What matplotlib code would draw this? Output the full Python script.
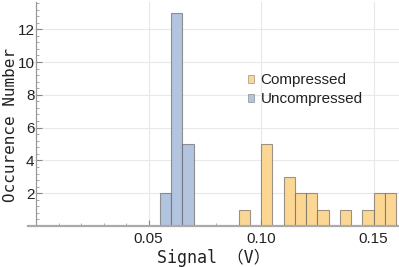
import matplotlib
matplotlib.use("Agg")
import matplotlib.pyplot as plt
from matplotlib.patches import Patch
from matplotlib.ticker import MultipleLocator, FixedLocator

bin_width = 0.005
unc_left = [0.055, 0.060, 0.065]
unc_counts = [2, 13, 5]
comp_left = [0.090, 0.100, 0.110, 0.115, 0.120, 0.125, 0.135, 0.145, 0.150, 0.155]
comp_counts = [1, 5, 3, 2, 2, 1, 1, 1, 2, 2]
x_ticks = [0.05, 0.10, 0.15]
x_tick_labels = ["0.05", "0.10", "0.15"]
y_ticks = [2, 4, 6, 8, 10, 12]
legend_labels = ["Compressed", "Uncompressed"]

blue = "#b3c4df"
orange = "#fcd794"
edge = (0.35, 0.35, 0.35, 0.6)

W, H = 399, 267
fig = plt.figure(figsize=(W/100, H/100), dpi=100)
left_px, right_px, bottom_px, top_px = 28, 399, 226, 2
ax = fig.add_axes([left_px/W, 1-bottom_px/H, (right_px-left_px)/W, (bottom_px-top_px)/H])

xscale = 2250.0
ax.set_xlim(-(36-left_px)/xscale, (right_px-36)/xscale)
ax.set_ylim(0, (bottom_px-top_px)/16.4)

ax.bar(unc_left, unc_counts, width=bin_width, align="edge", color=blue,
       edgecolor=edge, linewidth=0.8, zorder=3)
ax.bar(comp_left, comp_counts, width=bin_width, align="edge", color=orange,
       edgecolor=edge, linewidth=0.8, zorder=3)

for s in ["top", "right"]:
    ax.spines[s].set_visible(False)
ax.spines["left"].set_position(("data", 0))
ax.spines["left"].set_color("#999999")
ax.spines["left"].set_linewidth(0.9)
ax.spines["bottom"].set_color("#aaaaaa")
ax.spines["bottom"].set_linewidth(1.6)
ax.spines["bottom"].set_zorder(4)

ax.xaxis.set_major_locator(FixedLocator(x_ticks))
ax.set_xticklabels(x_tick_labels)
ax.xaxis.set_minor_locator(MultipleLocator(0.01))
ax.yaxis.set_major_locator(FixedLocator(y_ticks))
ax.yaxis.set_minor_locator(MultipleLocator(0.4))

ax.tick_params(axis="both", which="major", direction="in", length=4, width=0.8,
               color="#888888", labelsize=11, labelcolor="#222222", pad=4)
ax.tick_params(axis="y", which="major", pad=1)
ax.tick_params(axis="both", which="minor", direction="in", length=2.5, width=0.6,
               color="#999999")
for lab in ax.get_xticklabels() + ax.get_yticklabels():
    lab.set_fontfamily("Liberation Sans")

ax.grid(True, which="major", color="#e8e8e8", linewidth=0.8, zorder=0)
ax.set_axisbelow(True)

ax.set_xlabel("Signal （V）", family=["DejaVu Sans Mono", "Noto Sans CJK JP"],
              fontsize=12, color="#222222", labelpad=2)
ax.set_ylabel("Occurence Number", family=["DejaVu Sans Mono"], fontsize=11.5,
              color="#222222")
ax.yaxis.set_label_coords((18-left_px)/(right_px-left_px), 1-(124.5-top_px)/(bottom_px-top_px))

handles = [Patch(facecolor=orange, edgecolor=edge, linewidth=0.5),
           Patch(facecolor=blue, edgecolor=edge, linewidth=0.5)]
leg = ax.legend(handles, legend_labels, loc="upper left",
                bbox_to_anchor=((248-left_px)/(right_px-left_px), 1-(73-top_px)/(bottom_px-top_px)),
                frameon=False, handlelength=0.42, handleheight=0.42, handletextpad=0.4,
                labelspacing=0.35, borderpad=0, borderaxespad=0,
                prop={"family": "Liberation Sans", "size": 11})
for t in leg.get_texts():
    t.set_color("#222222")

fig.savefig("out.png", dpi=100)
